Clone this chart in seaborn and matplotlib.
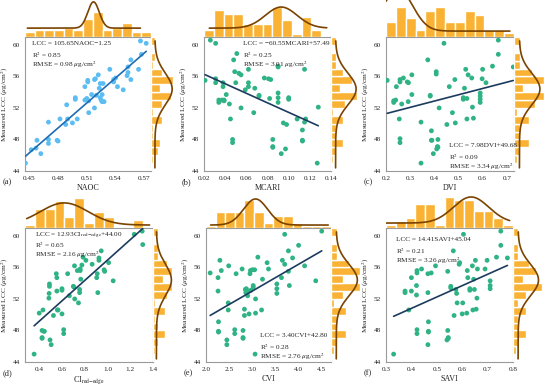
import numpy as np
import matplotlib.pyplot as plt
import seaborn as sns

sns.set_style("white")
plt.rcParams["font.family"] = ["Liberation Serif", "DejaVu Serif"]
plt.rcParams["mathtext.fontset"] = "stix"

# ---- data ----
naoc = [0.446, 0.452, 0.457, 0.458, 0.462, 0.470, 0.470, 0.470, 0.479, 0.480,
        0.482, 0.488, 0.490, 0.489, 0.495, 0.498, 0.498, 0.500, 0.508, 0.508,
        0.511, 0.511, 0.510, 0.512, 0.512, 0.515, 0.518, 0.518, 0.519, 0.520,
        0.522, 0.523, 0.524, 0.524, 0.525, 0.526, 0.526, 0.527, 0.528, 0.534,
        0.538, 0.538, 0.540, 0.542, 0.548, 0.552, 0.553, 0.553, 0.556, 0.556,
        0.564, 0.567, 0.566, 0.572]
naoc_lcc = [45.0, 46.7, 46.9, 47.9, 46.2, 47.5, 48.0, 50.2, 47.9, 47.8,
            50.6, 49.9, 50.6, 52.4, 50.1, 53.1, 53.3, 50.6, 54.7, 53.0,
            55.5, 55.3, 53.2, 51.4, 52.9, 53.7, 52.0, 55.6, 55.7, 53.6,
            56.2, 54.5, 53.3, 55.1, 53.0, 53.7, 52.8, 55.1, 52.8, 56.9,
            55.6, 55.3, 55.8, 54.7, 54.3, 56.1, 56.5, 57.2, 58.1, 55.6,
            56.9, 58.8, 60.5, 60.2]

mcari = [0.021, 0.026, 0.031, 0.031, 0.031, 0.034, 0.034, 0.037, 0.038, 0.038,
         0.039, 0.039, 0.041, 0.044, 0.045, 0.047, 0.047, 0.048, 0.049, 0.050,
         0.051, 0.053, 0.055, 0.055, 0.059, 0.062, 0.062, 0.062, 0.067, 0.068,
         0.072, 0.072, 0.077, 0.081, 0.083, 0.082, 0.085, 0.085, 0.085, 0.090,
         0.090, 0.090, 0.090, 0.090, 0.093, 0.095, 0.097, 0.098, 0.100, 0.100,
         0.108, 0.113, 0.113, 0.113, 0.115, 0.115, 0.116, 0.128, 0.127]
mcari_lcc = [55.5, 60.6, 60.2, 55.7, 55.2, 53.0, 52.7, 53.0, 55.2, 54.7,
             53.0, 52.9, 53.7, 52.5, 50.6, 48.0, 47.6, 58.1, 56.6, 55.2,
             58.9, 56.4, 56.2, 52.0, 54.3, 56.9, 54.7, 55.2, 51.4, 54.5,
             53.6, 53.5, 55.8, 55.7, 55.6, 53.2, 48.0, 47.0, 47.1, 57.2,
             57.3, 53.9, 53.3, 52.7, 46.2, 50.1, 46.8, 49.9, 53.3, 53.1,
             50.6, 49.2, 47.9, 47.8, 56.9, 50.2, 50.6, 52.1, 45.0]

dvi = [0.205, 0.232, 0.232, 0.240, 0.243, 0.255, 0.258, 0.258, 0.258, 0.258,
       0.265, 0.272, 0.288, 0.293, 0.292, 0.307, 0.307, 0.345, 0.345, 0.373,
       0.383, 0.383, 0.388, 0.388, 0.390, 0.396, 0.408, 0.408, 0.410, 0.413,
       0.415, 0.415, 0.420, 0.440, 0.452, 0.462, 0.475, 0.485, 0.487, 0.520,
       0.520, 0.525, 0.530, 0.535, 0.535, 0.540, 0.555, 0.558, 0.562, 0.590,
       0.590, 0.590, 0.590, 0.598, 0.600, 0.614, 0.641, 0.665, 0.665, 0.727]
dvi_lcc = [55.5, 52.9, 52.7, 53.0, 54.7, 50.6, 55.6, 55.3, 48.1, 47.6,
           52.5, 55.8, 55.3, 55.2, 52.8, 56.2, 53.7, 50.2, 45.0, 58.1,
           53.6, 53.5, 49.1, 47.9, 47.9, 46.2, 56.6, 56.3, 46.8, 47.1,
           47.0, 48.0, 52.0, 60.2, 49.9, 54.7, 51.4, 55.6, 50.1, 53.3,
           53.1, 54.5, 56.9, 53.2, 50.6, 56.2, 55.8, 52.1, 50.7, 53.9,
           53.5, 53.1, 52.7, 55.7, 56.9, 55.2, 57.3, 60.6, 58.8, 57.2]

ci_re = [0.355, 0.400, 0.425, 0.425, 0.425, 0.433, 0.440, 0.445, 0.485, 0.487,
         0.490, 0.490, 0.495, 0.505, 0.525, 0.550, 0.555, 0.555, 0.560, 0.565,
         0.600, 0.600, 0.600, 0.615, 0.615, 0.650, 0.665, 0.700, 0.705, 0.710,
         0.712, 0.735, 0.745, 0.755, 0.755, 0.760, 0.760, 0.765, 0.775, 0.785,
         0.810, 0.865, 0.905, 0.910, 0.915, 0.925, 0.925, 0.945, 0.970, 0.975,
         1.010, 1.050, 1.235, 1.305, 1.310]
ci_re_lcc = [45.0, 50.2, 48.0, 47.1, 47.0, 50.6, 47.9, 47.9, 52.1, 52.7,
             53.6, 53.9, 46.8, 46.2, 49.9, 55.2, 54.7, 53.0, 50.6, 50.6,
             53.3, 53.1, 50.1, 48.1, 47.6, 55.2, 52.4, 53.6, 53.5, 56.2,
             52.0, 55.6, 51.5, 53.2, 52.8, 55.8, 55.6, 54.5, 56.3, 57.3,
             56.9, 56.4, 54.7, 55.2, 52.8, 57.2, 56.9, 58.1, 55.7, 55.5,
             56.6, 54.3, 60.2, 60.6, 58.9]

cvi = [2.09, 2.26, 2.26, 2.27, 2.27, 2.27, 2.30, 2.33, 2.45, 2.45,
       2.48, 2.48, 2.49, 2.62, 2.62, 2.65, 2.78, 2.80, 2.80, 2.80,
       2.83, 2.83, 2.85, 2.86, 2.87, 2.90, 2.92, 2.93, 2.95, 2.96,
       2.97, 3.00, 3.02, 3.02, 3.05, 3.07, 3.07, 3.12, 3.20, 3.22,
       3.32, 3.35, 3.53, 3.53, 3.53, 3.63, 3.65, 3.70, 3.70, 3.78,
       3.78, 3.80, 3.87, 4.00, 4.13, 4.37, 4.50, 3.06]
cvi_lcc = [55.3, 53.0, 54.7, 49.1, 47.9, 47.8, 56.9, 55.6, 46.8, 46.2,
           51.5, 50.6, 56.2, 48.1, 47.6, 55.2, 55.8, 48.0, 47.1, 47.0,
           50.7, 49.9, 53.2, 52.8, 53.3, 52.4, 53.0, 50.1, 55.2, 55.6,
           53.1, 55.7, 53.5, 53.7, 55.7, 52.0, 50.2, 57.3, 50.6, 54.5,
           56.6, 55.8, 53.9, 53.3, 52.7, 54.7, 56.9, 60.2, 56.4, 58.1,
           55.5, 53.7, 57.2, 58.8, 56.2, 54.3, 60.6, 45.0]

savi = [0.330, 0.375, 0.375, 0.390, 0.400, 0.400, 0.420, 0.420, 0.422, 0.422,
        0.422, 0.422, 0.440, 0.465, 0.465, 0.467, 0.467, 0.467, 0.465, 0.478,
        0.495, 0.543, 0.543, 0.540, 0.545, 0.545, 0.555, 0.555, 0.565, 0.568,
        0.575, 0.578, 0.580, 0.588, 0.590, 0.600, 0.605, 0.602, 0.618, 0.620,
        0.622, 0.630, 0.630, 0.640, 0.642, 0.645, 0.648, 0.652, 0.655, 0.658,
        0.660, 0.690, 0.698, 0.710, 0.710, 0.710, 0.735, 0.752, 0.752, 0.778]
savi_lcc = [45.0, 53.0, 52.8, 50.6, 53.0, 54.7, 53.7, 52.5, 55.6, 55.3,
            48.1, 47.6, 55.8, 55.2, 52.8, 49.1, 47.9, 47.8, 46.2, 55.3,
            56.2, 55.5, 48.0, 46.8, 47.0, 47.1, 53.6, 53.4, 58.1, 49.9,
            53.2, 52.7, 51.5, 56.4, 56.6, 50.1, 60.2, 51.5, 50.2, 55.6,
            54.7, 53.3, 53.1, 56.2, 50.6, 54.5, 53.2, 56.9, 50.7, 52.1,
            55.8, 55.8, 56.9, 54.3, 53.7, 53.3, 57.3, 60.6, 58.8, 57.2]

slopes = [105.65, -60.55, 7.98, 12.93, 3.40, 14.41]
intercepts = [-1.25, 57.49, 49.68, 44.00, 42.80, 45.04]
eq_texts = ["LCC = 105.65NAOC\u22121.25",
            "LCC = \u221260.55MCARI+57.49",
            "LCC = 7.98DVI+49.68",
            r"LCC = 12.93CI$_{\mathrm{red\!-\!edge}}$+44.00",
            "LCC = 3.40CVI+42.80",
            "LCC = 14.41SAVI+45.04"]
r2_texts = ["0.85", "0.25", "0.09", "0.65", "0.28", "0.21"]
rmse_texts = ["0.98", "3.01", "3.34", "2.16", "2.76", "3.26"]
xlabels = ["NAOC", "MCARI", "DVI", r"CI$_{\mathrm{red\!-\!edge}}$", "CVI", "SAVI"]
letters = ["(a)", "(b)", "(c)", "(d)", "(e)", "(f)"]
xticks = [[0.45, 0.48, 0.51, 0.54, 0.57],
          [0.02, 0.04, 0.06, 0.08, 0.10, 0.12, 0.14],
          [0.2, 0.3, 0.4, 0.5, 0.6, 0.7],
          [0.4, 0.6, 0.8, 1.0, 1.2, 1.4],
          [2.0, 2.5, 3.0, 3.5, 4.0, 4.5],
          [0.3, 0.4, 0.5, 0.6, 0.7, 0.8]]
xfmt = ["{:.2f}", "{:.2f}", "{:.1f}", "{:.1f}", "{:.1f}", "{:.1f}"]
xlims = [(0.4455, 0.577), (0.02, 0.14), (0.2, 0.73), (0.275, 1.4), (2.0, 4.7), (0.3, 0.8)]
yticks = [44, 48, 52, 56, 60]

# fitted normal curves on the marginals (centre, sd)
top_mu = [0.517, 0.093, 0.25, 0.62, 3.07, 0.635]
top_sd = [0.006, 0.015, 0.06, 0.21, 0.26, 0.07]
right_mu, right_sd = 54.4, 2.0

xs_all = [naoc, mcari, dvi, ci_re, cvi, savi]
ys_all = [naoc_lcc, mcari_lcc, dvi_lcc, ci_re_lcc, cvi_lcc, savi_lcc]

# ---- layout (pixels) ----
W, H = 550, 389
main_box = [(25, 37, 126, 134), (204, 37, 127, 134), (386, 37, 128, 134),
            (25, 228, 128, 134), (206, 228, 125, 134), (386, 228, 127, 134)]
right_w = [23, 27, 32, 20, 31, 30]
top_y = [0, 0, 0, 195, 195, 195]
top_fill = [0.68, 0.81, 0.81, 0.9, 0.85, 0.94]
top_curve = [(0.24, 0.95, 0.448, 0.566), (0.24, 0.81, 0.025, 0.136), (0.16, 1.3, 0.2, 0.713),
             (0.09, 0.76, 0.29, 1.37), (0.09, 0.88, 2.1, 4.64), (0.15, 0.94, 0.3, 0.787)]
right_curve_peak = [0.92, 0.93, 0.81, 0.92, 0.85, 0.85]
txt_pos = [(32, 41), (243, 41), (449, 143), (35, 231), (260, 333), (396, 237)]
fs = 5.2

point_col = ["#5cbdf2"] + ["#2fb384"] * 5
line_col = ["#1f6cb3"] + ["#1c3b5e"] * 5
hist_col = "#f9b233"
curve_col = "#7a4300"

fig = plt.figure(figsize=(W / 100, H / 100), dpi=100)


def add_ax(x, y, w, h):
    return fig.add_axes([x / W, 1 - (y + h) / H, w / W, h / H])


for i in range(6):
    x0, y0, w, h = main_box[i]
    ax = add_ax(x0, y0, w, h)
    ax_top = add_ax(x0, top_y[i], w, y0 - top_y[i])
    ax_r = add_ax(x0 + w, y0, right_w[i], h)

    xv = np.array(xs_all[i])
    yv = np.array(ys_all[i])

    sns.scatterplot(x=xv, y=yv, ax=ax, color=point_col[i], s=12, edgecolor="none", zorder=3)
    lx = np.array([xv.min(), xv.max()])
    ax.plot(lx, slopes[i] * lx + intercepts[i], color=line_col[i], lw=1.2, zorder=4)

    ax.set_xlim(*xlims[i])
    ax.set_ylim(44, 61)
    ax.set_xticks(xticks[i])
    ax.set_xticklabels([xfmt[i].format(t) for t in xticks[i]])
    ax.set_yticks(yticks)
    ax.tick_params(length=2, width=0.6, color="#9a9a9a", direction="out",
                   labelsize=fs, pad=1.5)
    for sp in ax.spines.values():
        sp.set_color("#9a9a9a")
        sp.set_linewidth(0.8)
    ax.set_xlabel(xlabels[i], fontsize=5.8, labelpad=2)
    ax.set_ylabel(r"Measured LCC ($\mu$g/cm$^2$)", fontsize=5.3, labelpad=2)

    tx, ty = txt_pos[i]
    lines = [eq_texts[i], "R$^2$ = " + r2_texts[i],
             "RMSE = " + rmse_texts[i] + r" $\mu$g/cm$^2$"]
    for k, s in enumerate(lines):
        fig.text(tx / W, 1 - (ty + 9 * k) / H, s, fontsize=fs, va="top", ha="left")

    fig.text((x0 - 22) / W, 1 - (y0 + h + 11) / H, letters[i], fontsize=6, va="center", ha="left")

    # top marginal
    bins_x = np.linspace(xlims[i][0], xlims[i][1], 14)
    sns.histplot(x=xv, bins=bins_x, ax=ax_top, color=hist_col, alpha=1,
                 edgecolor="white", linewidth=1.0)
    cnt, _ = np.histogram(xv, bins=bins_x)
    ax_top.set_xlim(*xlims[i])
    ax_top.set_ylim(0, cnt.max() / top_fill[i])
    b0, b1, c0, c1 = top_curve[i]
    t = np.linspace(c0, c1, 300)
    z = np.exp(-0.5 * ((t - top_mu[i]) / top_sd[i]) ** 2)
    ax_top.plot(t, b0 + (b1 - b0) * z, color=curve_col, lw=1.2,
                transform=ax_top.get_xaxis_transform())
    ax_top.axis("off")

    # right marginal
    bins_y = np.arange(44, 62, 1.0)
    sns.histplot(y=yv, bins=bins_y, ax=ax_r, color=hist_col, alpha=1,
                 edgecolor="white", linewidth=1.0)
    cnt_y, _ = np.histogram(yv, bins=bins_y)
    ax_r.set_ylim(44, 61)
    ax_r.set_xlim(0, cnt_y.max() / 0.95)
    t = np.linspace(44.4, 60.5, 300)
    z = np.exp(-0.5 * ((t - right_mu) / right_sd) ** 2)
    ax_r.plot(0.17 + (right_curve_peak[i] - 0.17) * z, t, color=curve_col, lw=1.2,
              transform=ax_r.get_yaxis_transform())
    ax_r.axis("off")

fig.savefig("out.png", dpi=100)
